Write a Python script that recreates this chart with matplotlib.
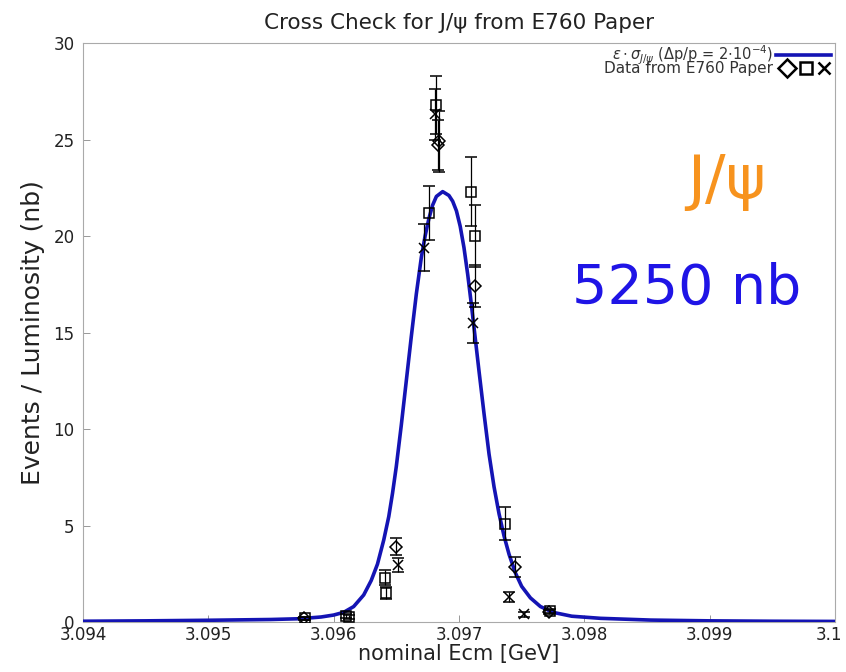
import numpy as np
import matplotlib.pyplot as plt
from matplotlib.transforms import ScaledTranslation

plt.rcParams["font.family"] = "DejaVu Sans"

# curve: eps * sigma_J/psi
curve_x = [3.0940, 3.0945, 3.0950, 3.0955, 3.09573, 3.09590, 3.09600, 3.09608,
           3.09616, 3.09624, 3.09630, 3.09635, 3.09640, 3.09644, 3.09647,
           3.09650, 3.09654, 3.09658, 3.09662, 3.09666, 3.09670, 3.09673,
           3.09676, 3.09679, 3.09682, 3.09687, 3.09692, 3.09695, 3.09698,
           3.09701, 3.09704, 3.09707, 3.09710, 3.09713, 3.09716, 3.09720,
           3.09724, 3.09728, 3.09732, 3.09736, 3.09740, 3.09745, 3.09750,
           3.09757, 3.09765, 3.09775, 3.09790, 3.09813, 3.09853, 3.0990,
           3.0995, 3.1000]
curve_y = [0.04, 0.06, 0.09, 0.13, 0.17, 0.26, 0.36, 0.50,
           0.80, 1.40, 2.15, 3.0, 4.25, 5.46, 6.67,
           8.05, 10.2, 12.5, 14.8, 17.0, 18.9, 20.0,
           20.9, 21.6, 22.05, 22.3, 22.1, 21.8, 21.3,
           20.5, 19.4, 18.0, 16.4, 14.7, 13.0, 10.8,
           8.7, 7.0, 5.6, 4.45, 3.5, 2.55, 1.85,
           1.25, 0.8, 0.5, 0.3, 0.19, 0.1, 0.06,
           0.04, 0.03]

# E760 data points
dia_x = [3.09576, 3.09650, 3.09684, 3.09683, 3.09713, 3.09745, 3.09772]
dia_y = [0.2, 3.9, 24.9, 24.7, 17.4, 2.85, 0.52]
dia_e = [0.08, 0.45, 1.6, 1.3, 1.1, 0.5, 0.1]

sq_x = [3.09577, 3.09610, 3.09612, 3.09641, 3.09642, 3.09676, 3.09682, 3.09710, 3.09713, 3.09737, 3.09773]
sq_y = [0.2, 0.3, 0.25, 2.3, 1.5, 21.2, 26.8, 22.3, 20.0, 5.1, 0.55]
sq_e = [0.08, 0.1, 0.1, 0.4, 0.3, 1.4, 1.5, 1.8, 1.6, 0.85, 0.1]

x_x = [3.09651, 3.09672, 3.09681, 3.09711, 3.09740, 3.09752]
x_y = [2.95, 19.4, 26.3, 15.5, 1.3, 0.4]
x_e = [0.35, 1.2, 1.3, 1.05, 0.25, 0.12]

fig = plt.figure(figsize=(8.46, 6.72), dpi=100)
ax = fig.add_axes([0.098, 0.0744, 0.889, 0.8616])

line_col = '#1414b4'
ax.plot(curve_x, curve_y, color=line_col, linewidth=2.6, solid_joinstyle='round', zorder=3)

ekw = dict(color='black', ecolor='black', elinewidth=0.9, capsize=4, capthick=0.9,
           linestyle='none', markersize=7, markerfacecolor='none', markeredgewidth=1.1, zorder=4)
ax.errorbar(dia_x, dia_y, yerr=dia_e, marker='D', **{**ekw, 'markersize': 6})
ax.errorbar(sq_x, sq_y, yerr=sq_e, marker='s', **ekw)
ax.errorbar(x_x, x_y, yerr=x_e, marker='x', **ekw)

ax.set_xlim(3.094, 3.1)
ax.set_ylim(0, 30)
ax.set_xticks([3.094, 3.095, 3.096, 3.097, 3.098, 3.099, 3.1])
ax.set_xticklabels(['3.094', '3.095', '3.096', '3.097', '3.098', '3.099', '3.1'])
ax.set_yticks([0, 5, 10, 15, 20, 25, 30])
ax.tick_params(direction='in', length=5, width=0.6, color='#888888', labelsize=12,
               labelcolor='#222222', pad=3)
ax.tick_params(axis='y', pad=6)
# keep the last x label inside the picture
last = ax.get_xticklabels()[-1]
last.set_transform(last.get_transform() + ScaledTranslation(-6 / 100, 0, fig.dpi_scale_trans))
for s in ax.spines.values():
    s.set_color('#aaaaaa')
    s.set_linewidth(0.8)

ax.set_title('Cross Check for J/\u03c8 from E760 Paper', fontsize=15.5, pad=10, color='#222222')
ax.set_xlabel('nominal Ecm [GeV]', fontsize=15, labelpad=0, color='#222222')
ax.set_ylabel('Events / Luminosity (nb)', fontsize=18, labelpad=6, color='#222222')

# legend, drawn by hand in the corner like the original
ax.text(0.918, 0.978, r'$\epsilon\cdot\sigma_{J/\psi}$ ($\Delta$p/p = 2$\cdot$10$^{-4}$)',
        transform=ax.transAxes, ha='right', va='center', fontsize=10.5, color='#333333')
ax.plot([0.922, 0.995], [0.979, 0.979], transform=ax.transAxes, color=line_col, linewidth=2.6)
ax.text(0.918, 0.956, 'Data from E760 Paper', transform=ax.transAxes, ha='right',
        va='center', fontsize=11, color='#333333')
for xm, mk in zip([0.936, 0.961, 0.986], ['D', 's', 'x']):
    ax.plot([xm], [0.957], transform=ax.transAxes, marker=mk, color='black',
            markerfacecolor='none', markersize=9, markeredgewidth=1.8)

fig.text(0.859, 0.73, 'J/\u03c8', fontsize=44, color='#f7931e', ha='center', va='center')
fig.text(0.812, 0.57, '5250 nb', fontsize=40, color='#1f14e6', ha='center', va='center')

fig.savefig('out.png', dpi=100)
